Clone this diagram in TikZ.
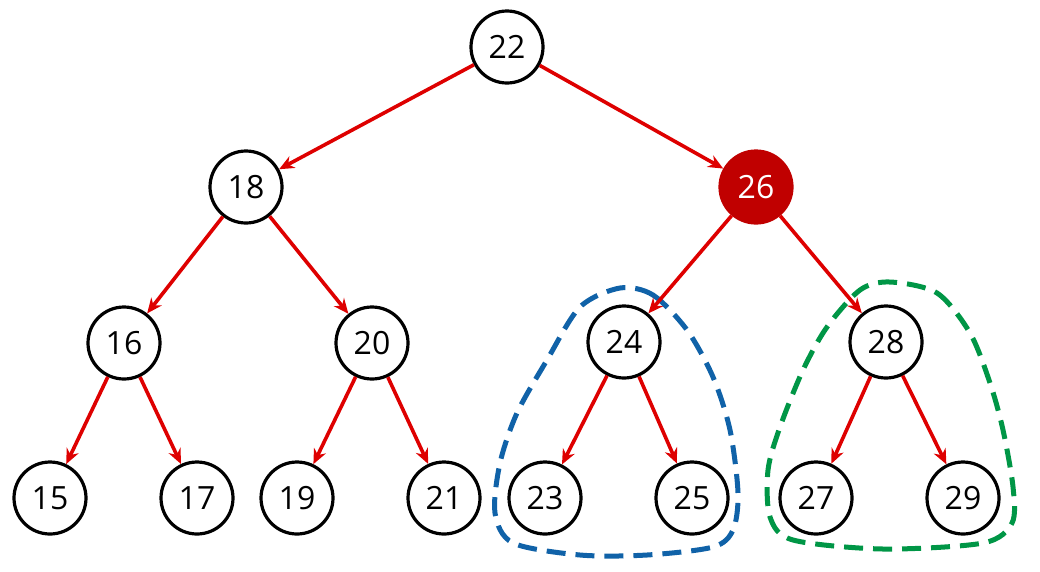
\documentclass[tikz,border=0pt]{standalone}
\usepackage{fontspec}
\setmainfont{Open Sans}
\usetikzlibrary{arrows.meta}
\definecolor{edgered}{RGB}{222,0,0}
\definecolor{darkred}{RGB}{192,0,0}
\definecolor{grpblue}{RGB}{16,98,168}
\definecolor{grpgreen}{RGB}{0,150,70}
\tikzset{
  tnode/.style={circle, draw=black, line width=3.2pt, fill=white, minimum size=72pt, inner sep=0pt, font=\fontsize{32}{34}\selectfont},
  hotnode/.style={tnode, fill=darkred, draw=darkred, text=white},
  edge/.style={draw=edgered, line width=3.6pt, -{Stealth[length=15pt,width=13pt]}},
  grp/.style={line width=5pt, dash pattern=on 19pt off 10pt}
}
\begin{document}
\begin{tikzpicture}[x=1pt,y=-1pt]
\useasboundingbox (0,0) rectangle (1040,571);
% groups
\draw[grp, draw=grpblue] plot[smooth cycle] coordinates {
 (620,288) (653,295) (687,330) (713,377) (730,430) (738,493) (733,530) (713,547)
 (647,555) (580,555) (513,543) (495,513) (500,463) (517,413) (547,360) (580,307)};
\draw[grp, draw=grpgreen] plot[smooth cycle] coordinates {
 (890,282) (937,293) (970,333) (990,383) (1003,430) (1013,487) (1012,523) (983,543)
 (883,549) (793,540) (770,517) (768,470) (780,427) (803,370) (827,327) (860,290)};
% nodes
\node[tnode] (n22) at (507,47) {22};
\node[tnode] (n18) at (246,187) {18};
\node[hotnode] (n26) at (756,187) {26};
\node[tnode] (n16) at (124,343) {16};
\node[tnode] (n20) at (372,343) {20};
\node[tnode] (n24) at (624,342) {24};
\node[tnode] (n28) at (886,342) {28};
\node[tnode] (n15) at (50,498) {15};
\node[tnode] (n17) at (197,498) {17};
\node[tnode] (n19) at (297,498) {19};
\node[tnode] (n21) at (444,498) {21};
\node[tnode] (n23) at (545,498) {23};
\node[tnode] (n25) at (692,498) {25};
\node[tnode] (n27) at (816,498) {27};
\node[tnode] (n29) at (963,498) {29};
% edges
\draw[edge] (n22) -- (n18);
\draw[edge] (n22) -- (n26);
\draw[edge] (n18) -- (n16);
\draw[edge] (n18) -- (n20);
\draw[edge] (n26) -- (n24);
\draw[edge] (n26) -- (n28);
\draw[edge] (n16) -- (n15);
\draw[edge] (n16) -- (n17);
\draw[edge] (n20) -- (n19);
\draw[edge] (n20) -- (n21);
\draw[edge] (n24) -- (n23);
\draw[edge] (n24) -- (n25);
\draw[edge] (n28) -- (n27);
\draw[edge] (n28) -- (n29);
\end{tikzpicture}
\end{document}
